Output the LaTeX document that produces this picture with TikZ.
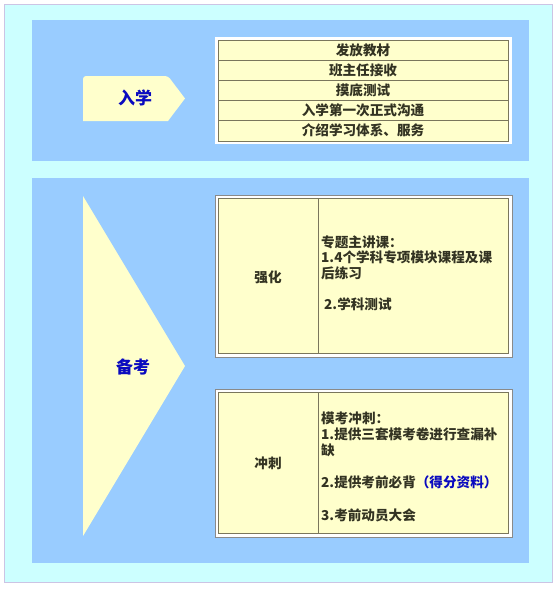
\documentclass[tikz,border=0pt]{standalone}
\usepackage{fontspec}
\newfontfamily\cjk{Noto Sans CJK SC}
\definecolor{bgcyan}{HTML}{CCFFFF}
\definecolor{framelav}{HTML}{CCC4E4}
\definecolor{panelblue}{HTML}{99CCFF}
\definecolor{cellyellow}{HTML}{FFFFCC}
\definecolor{gridgray}{HTML}{7A765C}
\definecolor{outgray}{HTML}{8A8A8A}
\definecolor{titleblue}{HTML}{0A0ABF}
\definecolor{txtdark}{HTML}{333322}
\tikzset{
  panel/.style={fill=panelblue,draw=none},
  grid/.style={draw=gridgray,line width=1pt},
  celltxt/.style={font=\cjk\bfseries\fontsize{13.6}{16}\selectfont,text=txtdark,inner sep=0pt},
  linetxt/.style={celltxt,anchor=west},
  headtxt/.style={font=\cjk\bfseries\fontsize{17}{19}\selectfont,text=titleblue,inner sep=0pt},
}
\begin{document}
\begin{tikzpicture}[x=1pt,y=-1pt]
\useasboundingbox (0,0) rectangle (560,590);
\fill[white] (0,0) rectangle (560,590);
% outer frame
\draw[fill=bgcyan,draw=framelav,line width=1pt] (4,4) rectangle (552,582);
% panels
\fill[panel] (32,20) rectangle (529,161);
\fill[panel] (32,178) rectangle (529,563);
% 入学 pentagon
\fill[cellyellow,rounded corners=3pt] (83,121) -- (83,76) -- (168,76) [sharp corners] -- (185,98.5) -- (168,121) -- cycle;
\node[headtxt] (ruxue) at (135,98) {入学};
% table 1
\fill[white] (215,37) rectangle (512,144);
\draw[grid,fill=cellyellow] (218,40) rectangle (508,141);
\foreach \yy in {60,80,100,120} \draw[grid] (218,\yy) -- (508,\yy);
\node[celltxt] (r1) at (363,50) {发放教材};
\node[celltxt] (r2) at (363,70) {班主任接收};
\node[celltxt] (r3) at (363,90) {摸底测试};
\node[celltxt] (r4) at (363,110) {入学第一次正式沟通};
\node[celltxt] (r5) at (363,130) {介绍学习体系、服务};
% 备考 triangle
\fill[cellyellow] (83,196) -- (185,366) -- (83,536) -- cycle;
\node[headtxt] (beikao) at (133,367) {备考};
% table 2
\draw[draw=outgray,line width=0.8pt,fill=white] (215,195) rectangle (512,357);
\draw[grid,fill=cellyellow] (218,198) rectangle (508,353);
\draw[grid] (318,198) -- (318,353);
\node[celltxt] (qh) at (268,277) {强化};
\node[linetxt] (qa) at (321,242) {专题主讲课：};
\node[linetxt] (qb) at (321,257.5) {1.4个学科专项模块课程及课};
\node[linetxt] (qc) at (321,273) {后练习};
\node[linetxt] (qd) at (324,304.5) {2.学科测试};
% table 3
\draw[draw=outgray,line width=0.8pt,fill=white] (215,389) rectangle (512,537);
\draw[grid,fill=cellyellow] (218,392) rectangle (508,533);
\draw[grid] (318,392) -- (318,533);
\node[celltxt] (cc) at (268,463) {冲刺};
\node[linetxt] (ca) at (321,418) {模考冲刺：};
\node[linetxt] (cb) at (321,434) {1.提供三套模考卷进行查漏补};
\node[linetxt] (ccc) at (321,450) {缺};
\node[linetxt] (cd) at (321,482.5) {2.提供考前必背\textcolor{titleblue}{（得分资料）}};
\node[linetxt] (ce) at (321,515) {3.考前动员大会};
\end{tikzpicture}
\end{document}
